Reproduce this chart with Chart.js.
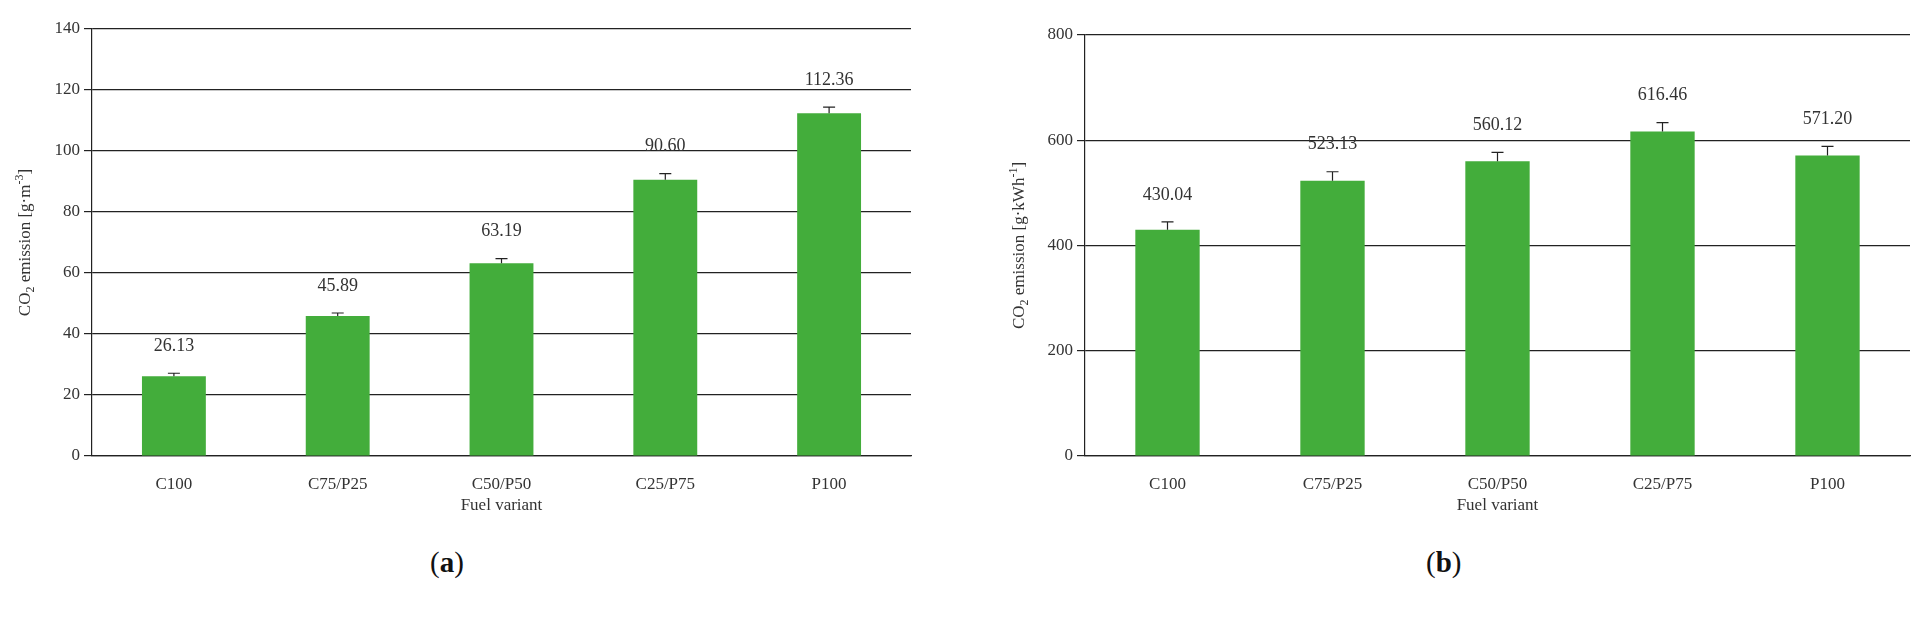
<!DOCTYPE html>
<html>
<head>
<meta charset="utf-8">
<script src="https://cdn.jsdelivr.net/npm/chart.js@4.4.0/dist/chart.umd.min.js"></script>
<style>
  body { margin: 0; background: #fff; width: 1920px; height: 629px; position: relative; overflow: hidden; }
  .box { position: absolute; top: 0; height: 520px; }
  .cap { position: absolute; top: 546px; font: 29px "Liberation Serif", serif; color: #111; }
</style>
</head>
<body>
<div class="box" style="left:0;width:930px"><canvas id="chartA"></canvas></div>
<div class="box" style="left:980px;width:940px"><canvas id="chartB"></canvas></div>
<div class="cap" style="left:430px">(<b>a</b>)</div>
<div class="cap" style="left:1426px">(<b>b</b>)</div>
<script>
// ---------- data ----------
const categories = ["C100", "C75/P25", "C50/P50", "C25/P75", "P100"];
const volumeValues = [26.13, 45.89, 63.19, 90.60, 112.36];
const volumeErrors = [1.0, 1.0, 1.5, 2.0, 2.0];
const energyValues = [430.04, 523.13, 560.12, 616.46, 571.20];
const energyErrors = [15, 17, 17, 17, 17];

const FONT = '"Liberation Serif", "DejaVu Serif", serif';
const GREEN = "#43ad3b";

// error bars + value labels + y title with sub/superscript
const decorPlugin = {
  id: "decor",
  afterDatasetsDraw(chart, args, opts) {
    const { ctx, scales: { y } } = chart;
    const meta = chart.getDatasetMeta(0);
    ctx.save();
    ctx.strokeStyle = "#222";
    ctx.lineWidth = 1.2;
    ctx.fillStyle = "#333";
    ctx.font = `18px ${FONT}`;
    ctx.textAlign = "center";
    ctx.textBaseline = "bottom";
    meta.data.forEach((bar, i) => {
      const v = opts.values[i];
      const top = y.getPixelForValue(v + opts.errors[i]);
      ctx.beginPath();
      ctx.moveTo(bar.x, bar.y);
      ctx.lineTo(bar.x, top);
      ctx.moveTo(bar.x - 6, top);
      ctx.lineTo(bar.x + 6, top);
      ctx.stroke();
      ctx.fillText(v.toFixed(2), bar.x, top - 18);
    });
    // y title
    const cx = opts.titleX, cy = (chart.chartArea.top + chart.chartArea.bottom) / 2;
    ctx.translate(cx, cy);
    ctx.rotate(-Math.PI / 2);
    ctx.textBaseline = "alphabetic";
    ctx.textAlign = "left";
    const parts = [
      ["CO", 17, 0], ["2", 12, 4], [" emission [g·" + opts.unit, 17, 0], [opts.sup, 12, -7], ["]", 17, 0]
    ];
    let total = 0;
    parts.forEach(p => { ctx.font = `${p[1]}px ${FONT}`; total += ctx.measureText(p[0]).width; });
    let x = -total / 2;
    parts.forEach(p => {
      ctx.font = `${p[1]}px ${FONT}`;
      ctx.fillText(p[0], x, p[2] + 6);
      x += ctx.measureText(p[0]).width;
    });
    ctx.restore();
  }
};

function makeChart(id, values, errors, max, step, yWidth, padTop, padRight, titleX, unit, sup) {
  return new Chart(document.getElementById(id), {
    type: "bar",
    data: {
      labels: categories,
      datasets: [{ data: values, backgroundColor: GREEN, barPercentage: 0.39, categoryPercentage: 1 }]
    },
    options: {
      responsive: true,
      maintainAspectRatio: false,
      animation: false,
      layout: { padding: { top: padTop, right: padRight, left: 0, bottom: 0 } },
      plugins: {
        legend: { display: false },
        tooltip: { enabled: false },
        decor: { values, errors, titleX, unit, sup }
      },
      scales: {
        x: {
          grid: { display: false },
          border: { color: "#222", width: 1.2 },
          ticks: { color: "#333", font: { family: FONT, size: 17 }, padding: 10 },
          title: { display: true, text: "Fuel variant", color: "#333", font: { family: FONT, size: 17 }, padding: { top: 2 } },
          afterFit(s) { s.height = 64; }
        },
        y: {
          min: 0, max,
          ticks: { stepSize: step, color: "#333", font: { family: FONT, size: 17 }, padding: 4 },
          grid: { color: "#222", lineWidth: 1.2, tickLength: 8, drawTicks: true },
          border: { color: "#222", width: 1.2 },
          afterFit(s) { s.width = yWidth; }
        }
      }
    },
    plugins: [decorPlugin]
  });
}

makeChart("chartA", volumeValues, volumeErrors, 140, 20, 92, 29, 19, 24, "m", "-3");
makeChart("chartB", energyValues, energyErrors, 800, 200, 105, 35, 10, 38, "kWh", "-1");
</script>
</body>
</html>
